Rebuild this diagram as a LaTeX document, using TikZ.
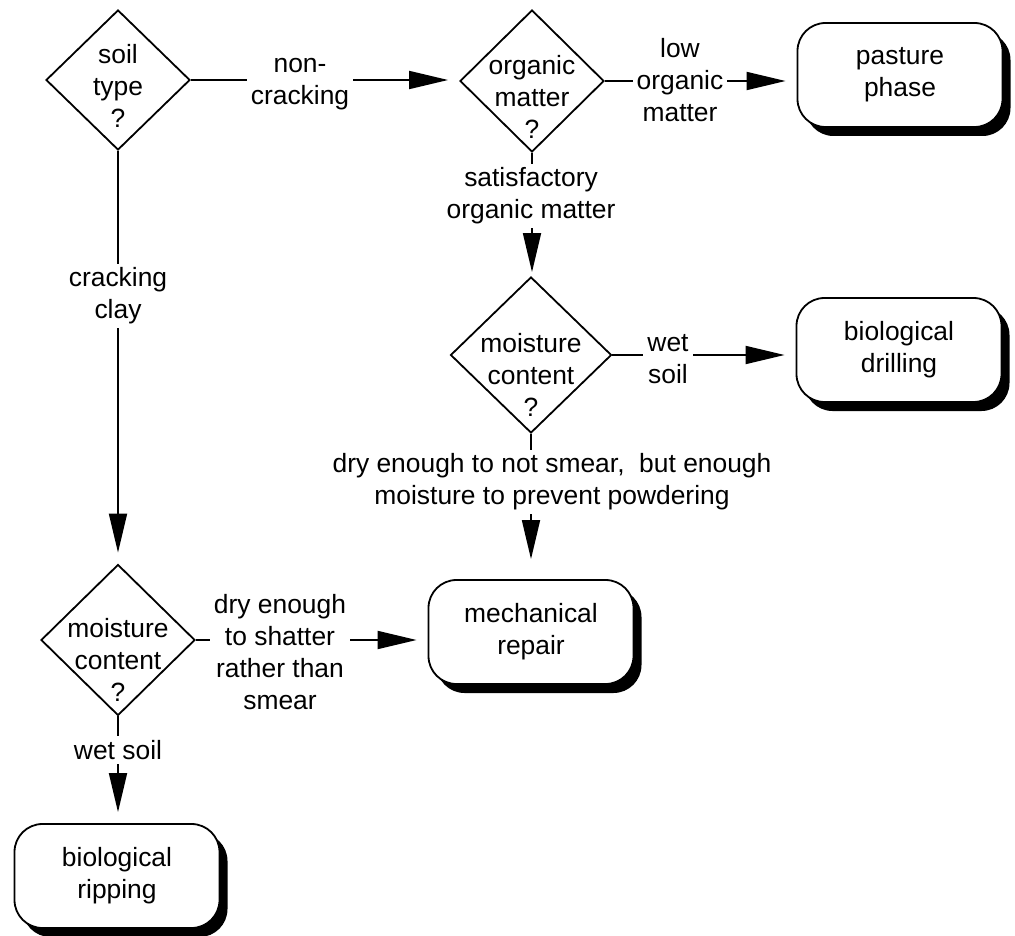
\documentclass[tikz,border=0pt]{standalone}
\usepackage{fontspec}
\setmainfont{Liberation Sans}
\usetikzlibrary{shapes.geometric,arrows.meta,shadows}
\newcommand{\diagfont}{\fontsize{26.4}{32}\selectfont}
\begin{document}
\begin{tikzpicture}[x=1pt,y=-1pt,
  dia/.style={diamond, draw, line width=1.8pt, inner sep=0pt, aspect=1},
  term/.style={rectangle, rounded corners=28pt, draw, line width=1.8pt, fill=white,
    minimum width=205pt, minimum height=104pt, align=center, font=\diagfont,
    drop shadow={shadow xshift=8pt, shadow yshift=-9pt, fill=black, opacity=1}},
  txt/.style={align=center, font=\diagfont, inner sep=0pt},
  lab/.style={align=center, font=\diagfont, fill=white, inner sep=4pt},
  arr/.style={line width=1.8pt, -{Triangle[length=39pt,width=18pt]}, shorten >=11pt}]
\useasboundingbox (0,0) rectangle (1015,936);

% decision diamonds
\node[dia, minimum width=144pt, minimum height=140pt] (d1) at (118,80) {};
\node[txt] (d1t) at (118,86) {soil\\type\\?};
\node[dia, minimum width=144pt, minimum height=142pt] (d2) at (532,81) {};
\node[txt] (d2t) at (532,97) {organic\\matter\\?};
\node[dia, minimum width=161pt, minimum height=156pt] (d3) at (531,355) {};
\node[txt] (d3t) at (531,375) {moisture\\content\\?};
\node[dia, minimum width=154pt, minimum height=151pt] (d4) at (118,640) {};
\node[txt] (d4t) at (118,660) {moisture\\content\\?};

% terminal boxes
\node[term] (pp) at (900,75) {pasture\\phase};
\node[term] (bd) at (899,350) {biological\\drilling};
\node[term] (mr) at (531,632) {mechanical\\repair};
\node[term] (br) at (117,876) {biological\\ripping};

% connectors
\draw[arr] (d1.east) -- (d1.east -| d2.west);
\draw[arr] (d1.south) -- (d4.north);
\draw[arr] (d2.east) -- (d2.east -| pp.west);
\draw[arr, shorten >=4pt] (d2.south) -- (d2.south |- d3.north);
\draw[arr] (d3.east) -- (d3.east -| bd.west);
\draw[arr, shorten >=20pt] (d3.south) -- (mr.north);
\draw[arr] (d4.east) -- (d4.east -| mr.west);
\draw[arr] (d4.south) -- (d4.south |- br.north);

% connector labels
\node[lab] (l1) at (300,84) {non-\\cracking};
\node[lab] (l2) at (118,296) {cracking\\clay};
\node[lab] (l3) at (680,80) {low\\organic\\matter};
\node[lab] (l4) at (531,196) {satisfactory\\organic matter};
\node[lab] (l5) at (668,359) {wet\\soil};
\node[lab] (l6) at (552,482) {dry enough to not smear,~ but enough\\moisture to prevent powdering};
\node[lab] (l7) at (280,652) {dry enough\\to shatter\\rather than\\smear};
\node[lab] (l8) at (118,750) {wet soil};
\end{tikzpicture}
\end{document}
